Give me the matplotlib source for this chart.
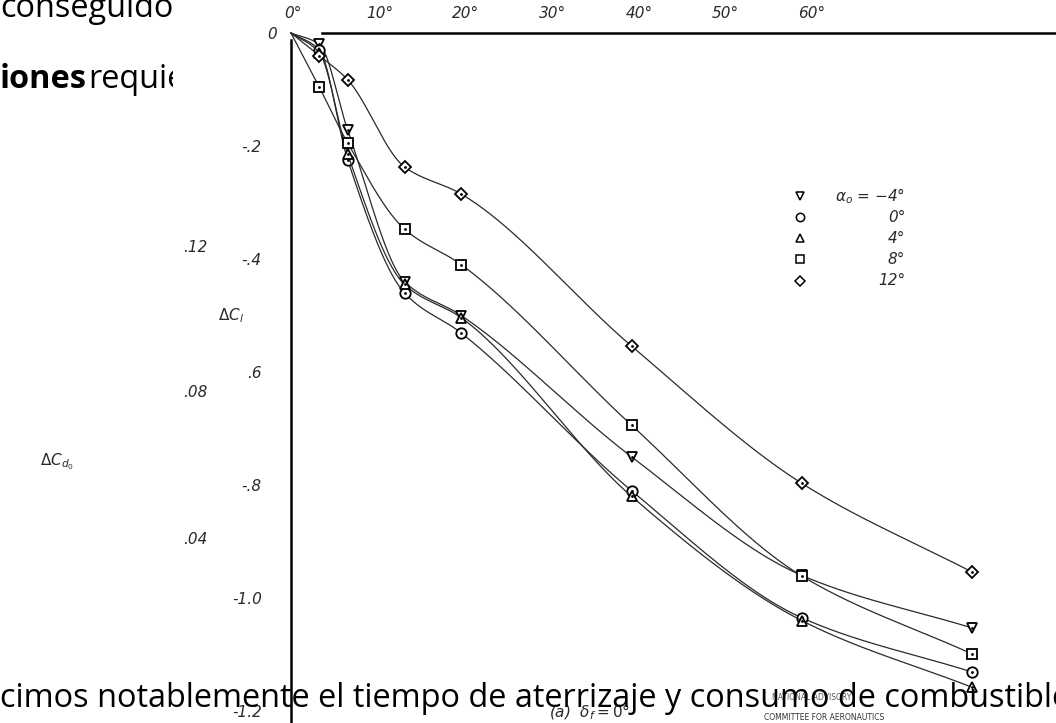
import numpy as np
import matplotlib.pyplot as plt
from matplotlib.patches import Rectangle

# flap deflection (deg) and increment in lift coefficient for each alpha_0
DEFL = [0, 2.5, 5, 10, 15, 30, 45, 60]
DCL = {
    "m4": [0, -0.020, -0.172, -0.440, -0.500, -0.750, -0.960, -1.053],
    "0":  [0, -0.030, -0.225, -0.460, -0.531, -0.810, -1.035, -1.131],
    "4":  [0, -0.035, -0.215, -0.445, -0.504, -0.820, -1.040, -1.158],
    "8":  [0, -0.096, -0.195, -0.347, -0.410, -0.694, -0.961, -1.099],
    "12": [0, -0.040, -0.083, -0.237, -0.285, -0.554, -0.797, -0.954],
}
SERIES = ["m4", "0", "4", "8", "12"]
MARKERS = {"m4": "v", "0": "o", "4": "^", "8": "s", "12": "D"}
LEG_TEXT = [r"$\alpha_{o}$ = $-$4°", "0°", "4°", "8°", "12°"]

YTICKS = [-0.2, -0.4, -0.6, -0.8, -1.0, -1.2]
YTICK_LABELS = ["-.2", "-.4", ".6", "-.8", "-1.0", "-1.2"]
TOP_TICKS = [0, 10, 20, 30, 40, 50, 60]
TOP_LABELS = ["0°", "10°", "20°", "30°", "40°", "50°", "60°"]

INK = "#2a2a2a"
HAND = dict(family="DejaVu Sans", style="oblique", color=INK)


def pchip(x, y, xs):
    x = np.asarray(x, float); y = np.asarray(y, float)
    h = np.diff(x); d = np.diff(y) / h
    m = np.zeros_like(y)
    m[0], m[-1] = d[0], d[-1]
    for k in range(1, len(x) - 1):
        if d[k - 1] * d[k] > 0:
            w1 = 2 * h[k] + h[k - 1]
            w2 = h[k] + 2 * h[k - 1]
            m[k] = (w1 + w2) / (w1 / d[k - 1] + w2 / d[k])
    i = np.clip(np.searchsorted(x, xs) - 1, 0, len(x) - 2)
    t = (xs - x[i]) / h[i]
    h00 = 2 * t**3 - 3 * t**2 + 1
    h10 = t**3 - 2 * t**2 + t
    h01 = -2 * t**3 + 3 * t**2
    h11 = t**3 - t**2
    return h00 * y[i] + h10 * h[i] * m[i] + h01 * y[i + 1] + h11 * h[i] * m[i + 1]


W, H = 1056, 723
fig = plt.figure(figsize=(W / 100, H / 100), dpi=100)
fig.patch.set_facecolor("white")

body = dict(family="Open Sans", fontsize=23.4, color="black")
fig.text(0.0, 1 - 17 / H, "conseguido", zorder=0.5, va="baseline", **body)
fig.text(0.0, 1 - 88 / H, "iones", zorder=0.5, va="baseline", fontweight="bold", **body)
fig.text(88 / W, 1 - 88 / H, "requieren", zorder=0.5, va="baseline", **body)

# scanned sheet laid over the slide text
fig.add_artist(Rectangle((173 / W, 0), 1 - 173 / W, 1, transform=fig.transFigure,
                         facecolor="white", edgecolor="none", zorder=1))

x0, y0 = 291, 33
ax = fig.add_axes([x0 / W, 0, 1 - x0 / W, 1 - y0 / H], zorder=2)
ax.patch.set_alpha(0)
ax.set_xlim(0, (W - x0) / 11.35)
ax.set_ylim(-(H - y0) / 565, 0)

xs = np.linspace(0, 60, 400)
for key in SERIES:
    ax.plot(xs, pchip(DEFL, DCL[key], xs), color=INK, lw=0.9, clip_on=False)
    ax.plot(DEFL[1:], DCL[key][1:], ls="none", marker=MARKERS[key], ms=7.5 if key != "12" else 6.5,
            mfc="white", mec="black", mew=1.3, clip_on=False)
    ax.plot(DEFL[1:], DCL[key][1:], ls="none", marker=".", ms=2, color="black", clip_on=False)

for s in ["right", "bottom"]:
    ax.spines[s].set_visible(False)
ax.spines["left"].set_linewidth(1.8)
ax.spines["left"].set_bounds(-1.3, -0.012)
ax.spines["top"].set_linewidth(1.8)
ax.spines["top"].set_bounds(2.7, 70)
ax.set_xticks([])
ax.set_yticks(YTICKS, labels=YTICK_LABELS)
ax.set_yticks([0], labels=["0"], minor=True)
ax.tick_params(axis="y", which="major", length=0, pad=21, labelsize=11)
ax.tick_params(axis="y", which="minor", length=0, pad=10, labelsize=11)
for lab in ax.get_yticklabels(which="both"):
    lab.set(**HAND)

top = ax.twiny()
top.set_xlim((x0 - 293) / 8.65, (W - 293) / 8.65)
top.set_xticks(TOP_TICKS, labels=TOP_LABELS)
top.tick_params(axis="x", length=0, pad=9, labelsize=11)
for lab in top.get_xticklabels():
    lab.set(**HAND)
for s in top.spines.values():
    s.set_visible(False)

# key
for i, key in enumerate(SERIES):
    yy = 0.764 - i * 0.0307
    ax.plot([0.665], [yy], transform=ax.transAxes, marker=MARKERS[key], ms=6 if key != "12" else 5,
            mfc="white", mec="black", mew=1.1, ls="none")
    ax.text(0.803, yy, LEG_TEXT[i], transform=ax.transAxes, ha="right", va="center",
            fontsize=11, **HAND)

fig.text(218 / W, 1 - 320 / H, r"$\Delta C_l$", fontsize=11, zorder=3, color=INK)
fig.text(195 / W, 1 - 247 / H, ".12", fontsize=11, zorder=3, ha="center", va="center", **HAND)
fig.text(195 / W, 1 - 393 / H, ".08", fontsize=11, zorder=3, ha="center", va="center", **HAND)
fig.text(195 / W, 1 - 540 / H, ".04", fontsize=11, zorder=3, ha="center", va="center", **HAND)
fig.text(40 / W, 1 - 462 / H, r"$\Delta C_{d_0}$", fontsize=11, zorder=3, va="center", color=INK)
fig.text(590 / W, 1 - 712 / H, r"(a)  $\delta_f = 0°$", fontsize=11, zorder=3, ha="center",
         va="center", **HAND)
fig.text(812 / W, 1 - 697 / H, "NATIONAL ADVISORY", fontsize=5.5, zorder=3, ha="center",
         va="center", color="#555555", family="DejaVu Sans")
fig.text(824 / W, 1 - 717 / H, "COMMITTEE FOR AERONAUTICS", fontsize=5.5, zorder=3,
         ha="center", va="center", color="#333333", family="DejaVu Sans")

fig.text(0.0, 1 - 707 / H, "cimos notablemente el tiempo de aterrizaje y consumo de combustible",
         zorder=6, va="baseline", **body)

fig.savefig("out.png", dpi=100)
